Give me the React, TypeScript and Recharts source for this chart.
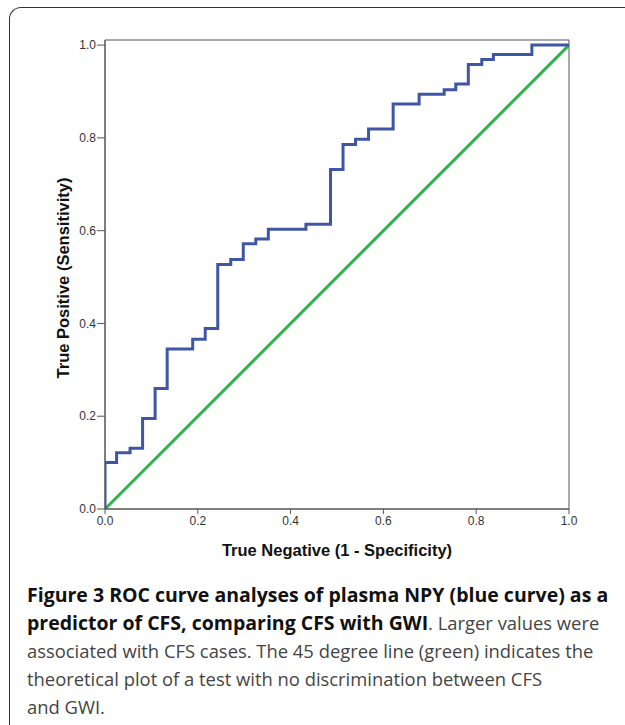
import React from "react";
import {
    LineChart,
    Line,
    XAxis,
    YAxis,
    ReferenceArea,
} from "recharts";

// ROC curve corners (1 - specificity, sensitivity)
const fprValues = [
    0, 0, 0.025, 0.054, 0.081, 0.108, 0.134, 0.189, 0.216, 0.243, 0.271,
    0.298, 0.325, 0.352, 0.433, 0.486, 0.513, 0.54, 0.568, 0.621, 0.677,
    0.731, 0.756, 0.783, 0.812, 0.837, 0.92, 1.0,
];
const tprValues = [
    0, 0.1, 0.121, 0.131, 0.195, 0.26, 0.345, 0.366, 0.389, 0.527, 0.538,
    0.572, 0.582, 0.603, 0.614, 0.732, 0.786, 0.797, 0.819, 0.873, 0.894,
    0.904, 0.916, 0.958, 0.969, 0.98, 1.0, 1.0,
];
const diagonalX = [0, 1];
const diagonalY = [0, 1];
const tickValues = [0, 0.2, 0.4, 0.6, 0.8, 1.0];

const rocData = fprValues.map((x, i) => ({ x, y: tprValues[i] }));
const refData = diagonalX.map((x, i) => ({ x, y: diagonalY[i] }));

const chartFont = "'Liberation Sans', Arial, sans-serif";

export default function App() {
    return (
        <div
            style={{
                position: "absolute",
                left: 0,
                top: 0,
                width: 625,
                height: 725,
                background: "#fff",
                overflow: "hidden",
            }}
        >
            {/* frame */}
            <div
                style={{
                    position: "absolute",
                    left: 9,
                    top: 7,
                    width: 640,
                    height: 740,
                    borderTop: "1.5px solid #333",
                    borderLeft: "1.5px solid #333",
                    borderTopLeftRadius: 12,
                    boxSizing: "border-box",
                }}
            />

            <div style={{ position: "absolute", left: 0, top: 0 }}>
                <LineChart
                    width={625}
                    height={570}
                    margin={{ top: 40, right: 56, bottom: 31, left: 65 }}
                    style={{ fontFamily: chartFont }}
                >
                    <XAxis
                        type="number"
                        dataKey="x"
                        domain={[0, 1]}
                        ticks={tickValues}
                        tickFormatter={(v: number) => v.toFixed(1)}
                        height={30}
                        stroke="#555"
                        tickSize={5}
                        tickMargin={2}
                        tick={{ fill: "#333", fontSize: 12 }}
                        allowDataOverflow
                    />
                    <YAxis
                        type="number"
                        dataKey="y"
                        domain={[0, 1.011]}
                        ticks={tickValues}
                        tickFormatter={(v: number) => v.toFixed(1)}
                        width={40}
                        stroke="#555"
                        tickSize={8}
                        tickMargin={1}
                        tick={{ fill: "#333", fontSize: 12 }}
                        allowDataOverflow
                    />
                    <ReferenceArea
                        x1={0}
                        x2={1}
                        y1={0}
                        y2={1.011}
                        fill="none"
                        stroke="#555"
                        strokeWidth={1}
                        ifOverflow="extendDomain"
                    />
                    <Line
                        data={refData}
                        dataKey="y"
                        type="linear"
                        stroke="#2db34a"
                        strokeWidth={3}
                        dot={false}
                        isAnimationActive={false}
                    />
                    <Line
                        data={rocData}
                        dataKey="y"
                        type="stepAfter"
                        stroke="#3f56a6"
                        strokeWidth={3}
                        dot={false}
                        isAnimationActive={false}
                    />
                </LineChart>
            </div>

            {/* axis titles */}
            <div
                style={{
                    position: "absolute",
                    left: 337,
                    top: 541,
                    transform: "translateX(-50%)",
                    whiteSpace: "nowrap",
                    fontFamily: chartFont,
                    fontWeight: "bold",
                    fontSize: 16.5,
                    color: "#111",
                }}
            >
                True Negative (1 - Specificity)
            </div>
            <div
                style={{
                    position: "absolute",
                    left: 63,
                    top: 278,
                    transform: "translate(-50%, -50%) rotate(-90deg)",
                    whiteSpace: "nowrap",
                    fontFamily: chartFont,
                    fontWeight: "bold",
                    fontSize: 16.5,
                    color: "#111",
                }}
            >
                True Positive (Sensitivity)
            </div>

            {/* caption */}
            <div
                style={{
                    position: "absolute",
                    left: 27,
                    top: 581,
                    fontFamily: "'Open Sans', sans-serif",
                    fontSize: 18.4,
                    lineHeight: "28px",
                    color: "#444",
                    whiteSpace: "nowrap",
                }}
            >
                <b style={{ color: "#111", fontSize: 19.5 }}>
                    Figure 3 ROC curve analyses of plasma NPY (blue curve) as a
                    <br />
                    predictor of CFS, comparing CFS with GWI
                </b>
                . Larger values were
                <br />
                associated with CFS cases. The 45 degree line (green) indicates the
                <br />
                theoretical plot of a test with no discrimination between CFS
                <br />
                and GWI.
            </div>
        </div>
    );
}
